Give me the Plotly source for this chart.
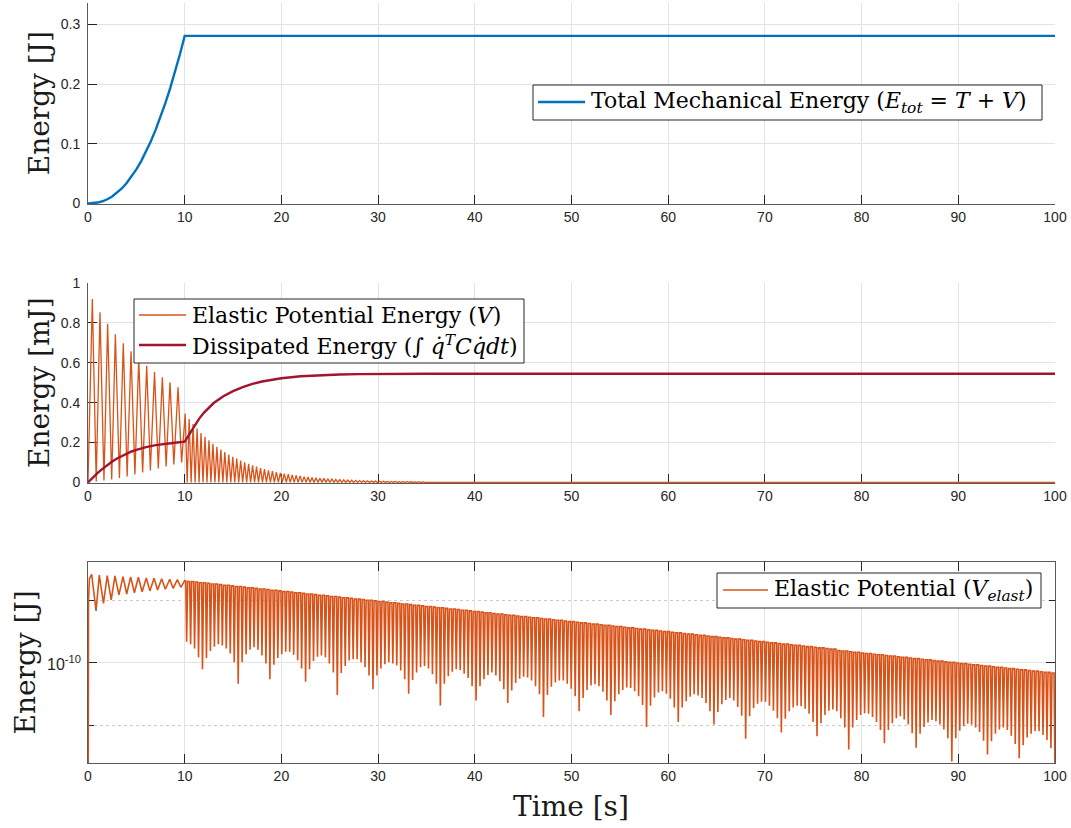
import numpy as np
import plotly.graph_objects as go

# ---------------- data ----------------
x_ticks = [0, 10, 20, 30, 40, 50, 60, 70, 80, 90, 100]

# Subplot 1: total mechanical energy [J]
t1 = [0, 0.5, 1, 1.5, 2, 2.5, 3, 3.5, 4, 4.5, 5, 5.5, 6, 6.5, 7, 7.5, 8, 8.5, 9, 9.5, 10, 100]
e_tot = [0, 0.0003, 0.0014, 0.0036, 0.0069, 0.0116, 0.0176, 0.0251, 0.0342, 0.0448, 0.0571,
         0.0710, 0.0867, 0.1042, 0.1237, 0.1450, 0.1682, 0.1933, 0.2206, 0.2497, 0.281, 0.281]

# Subplot 2: elastic potential energy [mJ], first 10 s (alternating peaks / troughs)
t2_before = [0, 0.45, 0.85, 1.24, 1.65, 2.03, 2.45, 2.83, 3.25, 3.65, 4.05, 4.45, 4.85,
             5.25, 5.65, 6.07, 6.45, 6.88, 7.27, 7.69, 8.08, 8.48, 8.88, 9.31, 9.68]
v2_before = [0, 0.92, 0.005, 0.853, 0.01, 0.795, 0.015, 0.743, 0.022, 0.698, 0.03, 0.657, 0.04,
             0.62, 0.05, 0.585, 0.06, 0.553, 0.07, 0.527, 0.08, 0.502, 0.09, 0.477, 0.10]
# after 10 s: one peak per cycle (troughs at 0)
t2_first_peak = 10.05
period_after = 0.41
v2_peaks_after = [0.345, 0.318, 0.293, 0.270, 0.248, 0.229, 0.211, 0.194, 0.179, 0.165,
                  0.152, 0.140, 0.129, 0.119, 0.109, 0.101, 0.093, 0.085, 0.079, 0.072,
                  0.067, 0.061, 0.057, 0.052, 0.048, 0.044, 0.041, 0.038, 0.035, 0.032,
                  0.029, 0.027, 0.025, 0.023, 0.021, 0.020, 0.018, 0.017, 0.015, 0.014,
                  0.013, 0.012, 0.011, 0.010, 0.009, 0.0085, 0.0078, 0.0072, 0.0066, 0.0061,
                  0.0056, 0.0052, 0.0048, 0.0044, 0.0040, 0.0037, 0.0034, 0.0032, 0.0029,
                  0.0027, 0.0025]

# Subplot 2: dissipated energy [mJ]
t2_diss = [0, 0.5, 1, 1.5, 2, 2.5, 3, 3.5, 4, 4.5, 5, 6, 7, 8, 9, 10, 10.5, 11, 11.5, 12,
           12.5, 13, 14, 15, 16, 17, 18, 19, 20, 22, 24, 26, 28, 30, 35, 100]
e_diss = [0, 0.025, 0.048, 0.068, 0.088, 0.105, 0.120, 0.133, 0.145, 0.155, 0.163, 0.177,
          0.187, 0.194, 0.199, 0.204, 0.245, 0.285, 0.320, 0.350, 0.375, 0.398, 0.432, 0.458,
          0.478, 0.494, 0.506, 0.515, 0.522, 0.532, 0.538, 0.541, 0.543, 0.544, 0.545, 0.545]

# Subplot 3: elastic potential [J] (log axis), first 10 s
t3_before = [0, 0.05, 0.15, 0.38, 0.83, 1.17, 1.6, 1.99, 2.4, 2.79, 3.2, 3.62, 4.0, 4.41,
             4.8, 5.21, 5.6, 6.03, 6.4, 6.83, 7.2, 7.62, 8.0, 8.45, 8.8, 9.24, 9.6, 10.0]
v3_before = [1e-14, 1.0e-9, 2.2e-9, 2.60e-9, 6.75e-10, 2.51e-9, 8.95e-10, 2.47e-9, 1.01e-9,
             2.44e-9, 1.22e-9, 2.38e-9, 1.26e-9, 2.36e-9, 1.32e-9, 2.33e-9, 1.37e-9, 2.27e-9,
             1.41e-9, 2.24e-9, 1.46e-9, 2.21e-9, 1.50e-9, 2.16e-9, 1.55e-9, 2.13e-9, 1.61e-9,
             2.06e-9]
# after 10 s: one cycle per dip; top level (log10 J) and dip depth below it (decades)
t3_first_dip = 10.2
v3_top_log10 = [
    -8.69, -8.70, -8.70, -8.71, -8.72, -8.72, -8.73, -8.74, -8.74, -8.75, -8.76, -8.76, -8.77, -8.78, -8.78,
    -8.79, -8.80, -8.80, -8.81, -8.82, -8.82, -8.83, -8.84, -8.84, -8.85, -8.86, -8.86, -8.87, -8.88, -8.88,
    -8.89, -8.90, -8.90, -8.91, -8.92, -8.92, -8.93, -8.94, -8.94, -8.95, -8.96, -8.96, -8.97, -8.98, -8.98,
    -8.99, -9.00, -9.00, -9.01, -9.02, -9.02, -9.03, -9.04, -9.04, -9.05, -9.06, -9.06, -9.07, -9.08, -9.08,
    -9.09, -9.10, -9.10, -9.11, -9.12, -9.12, -9.13, -9.14, -9.14, -9.15, -9.16, -9.16, -9.17, -9.18, -9.18,
    -9.19, -9.20, -9.20, -9.21, -9.22, -9.22, -9.23, -9.24, -9.24, -9.25, -9.26, -9.26, -9.27, -9.28, -9.28,
    -9.29, -9.30, -9.30, -9.31, -9.32, -9.32, -9.33, -9.34, -9.34, -9.35, -9.36, -9.36, -9.37, -9.38, -9.38,
    -9.39, -9.40, -9.40, -9.41, -9.42, -9.42, -9.43, -9.44, -9.44, -9.45, -9.46, -9.46, -9.47, -9.48, -9.48,
    -9.49, -9.50, -9.50, -9.51, -9.52, -9.52, -9.53, -9.54, -9.54, -9.55, -9.56, -9.56, -9.57, -9.58, -9.58,
    -9.59, -9.60, -9.60, -9.61, -9.62, -9.62, -9.63, -9.64, -9.64, -9.65, -9.66, -9.66, -9.67, -9.68, -9.68,
    -9.69, -9.70, -9.70, -9.71, -9.72, -9.72, -9.73, -9.74, -9.74, -9.75, -9.76, -9.76, -9.77, -9.78, -9.78,
    -9.80, -9.81, -9.81, -9.82, -9.83, -9.83, -9.84, -9.85, -9.85, -9.86, -9.87, -9.87, -9.88, -9.89, -9.89,
    -9.90, -9.91, -9.91, -9.92, -9.93, -9.93, -9.94, -9.95, -9.95, -9.96, -9.97, -9.97, -9.98, -9.99, -9.99,
    -10.00, -10.01, -10.01, -10.02, -10.03, -10.03, -10.04, -10.05, -10.05, -10.06, -10.07, -10.07, -10.08, -10.09, -10.09,
    -10.10, -10.11, -10.11, -10.12, -10.13, -10.13, -10.14, -10.15, -10.15, -10.16]
v3_dip_depth = [
    0.97, 1.00, 1.07, 1.20, 1.38,
    1.20, 1.08, 1.00, 0.96, 0.97, 1.01, 1.09, 1.22, 1.55,
    1.21, 1.07, 0.99, 0.95, 0.98, 1.06, 1.19, 1.43,
    1.19, 1.08, 1.01, 0.96, 0.96, 1.00, 1.08, 1.21, 1.41,
    1.20, 1.07, 0.99, 0.96, 0.99, 1.08, 1.21, 1.57,
    1.21, 1.09, 1.00, 0.97, 0.96, 1.01, 1.08, 1.20, 1.42,
    1.19, 1.07, 1.00, 0.96, 0.97, 1.00, 1.07, 1.20, 1.43,
    1.20, 1.07, 0.99, 0.96, 0.99, 1.08, 1.22, 1.56,
    1.21, 1.08, 1.00, 0.96, 0.96, 1.01, 1.08, 1.20, 1.42,
    1.19, 1.07, 0.99, 0.95, 0.99, 1.07, 1.20, 1.41,
    1.20, 1.08, 1.00, 0.96, 0.97, 1.01, 1.09, 1.22, 1.57,
    1.21, 1.08, 1.00, 0.96, 0.96, 1.00, 1.07, 1.19, 1.42,
    1.20, 1.07, 0.99, 0.96, 0.99, 1.07, 1.20, 1.43,
    1.20, 1.08, 1.01, 0.96, 0.96, 1.01, 1.08, 1.21, 1.56,
    1.21, 1.07, 0.99, 0.96, 0.99, 1.07, 1.20, 1.42,
    1.19, 1.08, 1.00, 0.96, 0.97, 1.00, 1.08, 1.20, 1.40,
    1.20, 1.07, 0.99, 0.96, 0.99, 1.08, 1.22, 1.58,
    1.21, 1.08, 1.00, 0.96, 0.96, 1.01, 1.08, 1.20, 1.42,
    1.19, 1.07, 1.00, 0.96, 0.97, 1.00, 1.07, 1.20, 1.42,
    1.20, 1.07, 0.99, 0.96, 0.99, 1.08, 1.22, 1.57,
    1.21, 1.08, 1.00, 0.96, 0.96, 1.01, 1.08, 1.20, 1.41,
    1.19, 1.07, 0.99, 0.95, 0.99, 1.07, 1.20, 1.42,
    1.20, 1.08, 1.00, 0.96, 0.97, 1.01, 1.09, 1.22, 1.58,
    1.21, 1.08, 1.00, 0.96, 0.96, 1.00, 1.07, 1.20, 1.41,
    1.20, 1.07, 0.99, 0.96, 0.99, 1.07, 1.20, 1.42,
    1.20, 1.08, 1.01, 0.96, 0.96, 1.01, 1.08, 1.21, 1.56]

legend_names = [
    'Total Mechanical Energy (<i>E</i><sub><i>tot</i></sub> = <i>T</i> + <i>V</i>)',
    'Elastic Potential Energy (<i>V</i>)',
    'Dissipated Energy (\u222b <i>q\u0307</i><sup><i>T</i></sup><i>Cq\u0307dt</i>)',
    'Elastic Potential (<i>V</i><sub><i>elast</i></sub>)',
]

# ---------------- build line paths from the data ----------------
x2e = list(t2_before)
y2e = list(v2_before)
for k, pk in enumerate(v2_peaks_after):
    tp = t2_first_peak + k * period_after
    x2e += [tp, tp + period_after / 2]
    y2e += [pk, 0.0]
x2e.append(100.0)
y2e.append(0.0)

x3 = list(t3_before)
y3 = list(v3_before)
n3 = min(len(v3_top_log10), len(v3_dip_depth))
for k in range(n3):
    td = t3_first_dip + k * period_after
    top = 10 ** v3_top_log10[k]
    dip = 10 ** (v3_top_log10[k] - v3_dip_depth[k])
    if k > 0:
        x3.append(td - 0.30)
        y3.append(top)
    x3 += [td - 0.09, min(td, 100.0)]
    y3 += [top, dip]

# ---------------- figure ----------------
W, H = 1071, 828
BLUE = '#0072BD'
ORANGE = '#D95319'
RED = '#A2142F'
AX = '#262626'
AXLINE = '#5a5a5a'
GRID = '#e3e3e3'
SANS = 'Liberation Sans, Arial, sans-serif'
TICKFONT = dict(family=SANS, size=14, color=AX)
SERIF = 'DejaVu Serif, serif'


def px(x):
    return x / W


def py(y):
    return 1 - y / H


xdom = [px(88), px(1055)]
doms = [(2.5, 204), (283, 483), (562, 763)]
ydoms = [[py(b), py(t)] for t, b in doms]

fig = go.Figure()
fig.add_trace(go.Scatter(x=t1, y=e_tot, mode='lines', line=dict(color=BLUE, width=2.4),
                         name=legend_names[0], showlegend=False,
                         xaxis='x', yaxis='y', hoverinfo='skip'))
fig.add_trace(go.Scatter(x=x2e, y=y2e, mode='lines', line=dict(color=ORANGE, width=1.3),
                         name=legend_names[1], showlegend=False,
                         xaxis='x2', yaxis='y2', hoverinfo='skip'))
fig.add_trace(go.Scatter(x=t2_diss, y=e_diss, mode='lines', line=dict(color=RED, width=2.4),
                         name=legend_names[2], showlegend=False,
                         xaxis='x2', yaxis='y2', hoverinfo='skip'))
fig.add_trace(go.Scatter(x=x3, y=y3, mode='lines', line=dict(color=ORANGE, width=1.6),
                         name=legend_names[3], showlegend=False,
                         xaxis='x3', yaxis='y3', hoverinfo='skip'))

common_x = dict(domain=xdom, range=[0, 100], tickvals=x_ticks, ticks='inside', ticklen=9,
                tickcolor=AX, tickwidth=1, showline=True, linecolor=AXLINE, linewidth=1,
                showgrid=True, gridcolor=GRID, gridwidth=1, zeroline=False, tickfont=TICKFONT,
                layer='below traces', fixedrange=True, automargin=False)
common_y = dict(ticks='inside', ticklen=9, tickcolor=AX, tickwidth=1, showline=True,
                linecolor=AXLINE, linewidth=1, showgrid=True, gridcolor=GRID, gridwidth=1,
                zeroline=False, layer='below traces', fixedrange=True, ticklabelstandoff=4,
                automargin=False)

fig.update_layout(
    template='none',
    width=W, height=H, autosize=False,
    margin=dict(l=0, r=0, t=0, b=0, pad=0, autoexpand=False),
    paper_bgcolor='white', plot_bgcolor='white',
    showlegend=False,
    xaxis=dict(**common_x, anchor='y'),
    xaxis2=dict(**common_x, anchor='y2'),
    xaxis3=dict(**common_x, anchor='y3', mirror='ticks'),
    yaxis=dict(**common_y, domain=ydoms[0], anchor='x', range=[-0.001, 0.337], tickfont=TICKFONT,
               tickvals=[0, 0.1, 0.2, 0.3], ticktext=['0', '0.1', '0.2', '0.3']),
    yaxis2=dict(**common_y, domain=ydoms[1], anchor='x2', range=[-0.003, 1], tickfont=TICKFONT,
                tickvals=[0, 0.2, 0.4, 0.6, 0.8, 1], ticktext=['0', '0.2', '0.4', '0.6', '0.8', '1']),
    yaxis3=dict(**common_y, domain=ydoms[2], anchor='x3', type='log', range=[-11.595, -8.39],
                tickfont=TICKFONT, tickvals=[1e-10], showticklabels=False, mirror='ticks',
                minor=dict(tickvals=[1e-11, 1e-9], ticks='inside', ticklen=6, tickcolor=AX,
                           showgrid=True, gridcolor='#cccccc', griddash='dot', gridwidth=1)),
)

# tick label of the log axis (power of ten)
fig.add_annotation(text='10<sup>-10</sup>', x=px(83), y=-10, xref='paper', yref='y3',
                   xanchor='right', yanchor='middle', showarrow=False,
                   font=dict(family=SANS, size=16, color=AX))

# axis titles
title_font = dict(family=SERIF, size=28, color='#1a1a1a')
title_x = [39, 39, 25]
for (t, b), txt, tx in zip(doms, ['Energy [J]', 'Energy [mJ]', 'Energy [J]'], title_x):
    fig.add_annotation(text=txt, x=px(tx), y=py((t + b) / 2), xref='paper', yref='paper',
                       xanchor='center', yanchor='middle', textangle=-90, showarrow=False,
                       font=title_font)
fig.add_annotation(text='Time [s]', x=px(571), y=py(806), xref='paper', yref='paper',
                   xanchor='center', yanchor='middle', showarrow=False, font=title_font)

# legends (boxed keys drawn in paper coordinates)
legend_font = dict(family=SERIF, size=22, color='black')
legend_boxes = [(533, 85, 1042, 120), (134, 299, 524, 363), (717, 573, 1041, 608)]
legend_items = [  # (line x0, line x1, y centre, colour, width, name index)
    (538, 585, 102, BLUE, 2.4, 0),
    (139, 186, 315, ORANGE, 1.5, 1),
    (139, 186, 345, RED, 2.4, 2),
    (723, 768, 590, ORANGE, 1.5, 3),
]
for x0, y0, x1, y1 in legend_boxes:
    fig.add_shape(type='rect', xref='paper', yref='paper', x0=px(x0), x1=px(x1),
                  y0=py(y1), y1=py(y0), fillcolor='white', line=dict(color=AX, width=1),
                  layer='above')
for lx0, lx1, yc, col, lw, ni in legend_items:
    fig.add_shape(type='line', xref='paper', yref='paper', x0=px(lx0), x1=px(lx1),
                  y0=py(yc), y1=py(yc), line=dict(color=col, width=lw), layer='above')
    fig.add_annotation(text=legend_names[ni], x=px(lx1 + 4), y=py(yc), xref='paper', yref='paper',
                       xanchor='left', yanchor='middle', showarrow=False, font=legend_font)

fig.write_html('out.html', config={'displayModeBar': False},
               post_script="document.body.style.margin='0';document.body.style.padding='0';")
